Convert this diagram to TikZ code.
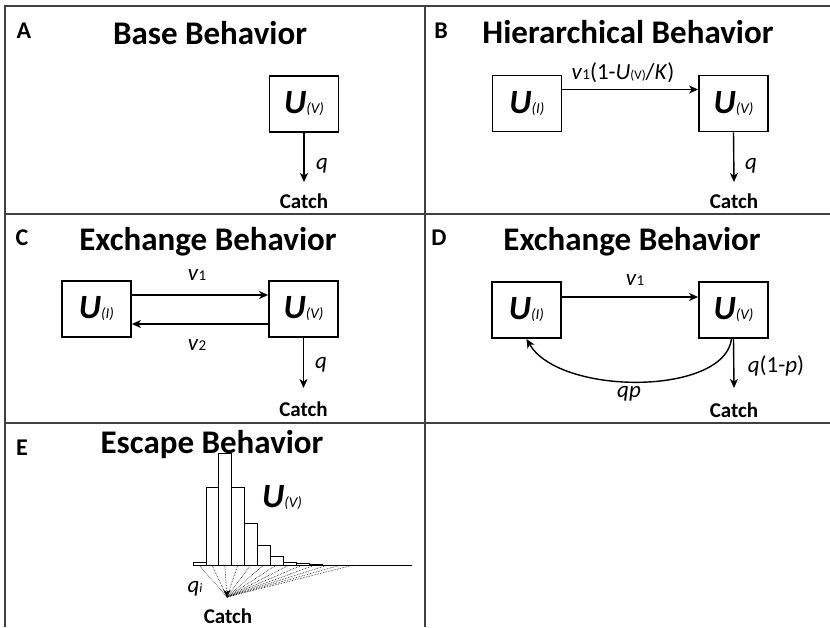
\documentclass[tikz,border=0pt]{standalone}
\usepackage{fontspec}
\setmainfont{Carlito}
\usetikzlibrary{calc}
\usetikzlibrary{arrows.meta}

\newcommand{\Ubox}[1]{{\fontsize{34}{34}\selectfont\bfseries\itshape U}{\fontsize{15}{15}\selectfont\itshape(#1)}}
\newcommand{\vsub}[1]{\textit{v}{\fontsize{15}{15}\selectfont #1}}

\begin{document}
\begin{tikzpicture}[x=1pt,y=-1pt,
  box/.style={draw,line width=1.8pt,minimum width=69pt,minimum height=56pt,inner sep=0pt},
  flow/.style={-{Stealth[length=9pt,width=8pt,inset=2.5pt]},line width=1.4pt},
  ttl/.style={font=\fontsize{33}{33}\selectfont\bfseries,anchor=base,inner sep=0pt},
  tag/.style={font=\fontsize{24}{24}\selectfont\bfseries,anchor=base,inner sep=0pt},
  catch/.style={font=\fontsize{21}{21}\selectfont\bfseries,anchor=base,inner sep=0pt},
  rate/.style={font=\fontsize{23}{23}\selectfont,anchor=base,inner sep=0pt},
  grid/.style={line width=1.3pt,draw=black!75}]
\useasboundingbox (0,0) rectangle (830,627);
\draw[grid] (830,6) -- (5,6) -- (5,627);
\draw[grid] (425,6) -- (425,627);
\draw[grid] (5,214) -- (830,214);
\draw[grid] (5,423) -- (830,423);

\node[tag] (aL) at (24,38) {A};
\node[ttl] (aT) at (210,44) {Base Behavior};
\node[box] (aV) at (304,104) {\Ubox{V}};
\node[catch] (aC) at (304,208) {Catch};
\draw[flow] (aV.south) -- ($(aC.base)+(0,-26)$);
\node[rate] (aq) at (322,169) {\textit{q}};

\node[tag] (bL) at (441,38) {B};
\node[ttl] (bT) at (628,43) {Hierarchical Behavior};
\node[box] (bI) at (527,103.5) {\Ubox{I}};
\node[box] (bV) at (733.5,103.5) {\Ubox{V}};
\draw[flow] ($(bI.east)+(0,-14)$) -- ($(bV.west)+(0,-14)$);
\node[rate] (bk) at (623,79) {\vsub{1}(1-\textit{U}{\fontsize{13}{13}\selectfont(V)}/\textit{K})};
\node[catch] (bC) at (734,208) {Catch};
\draw[flow] (bV.south) -- ($(bC.base)+(0,-26)$);
\node[rate] (bq) at (751,169) {\textit{q}};

\node[tag] (cL) at (22,245) {C};
\node[ttl] (cT) at (208,250) {Exchange Behavior};
\node[box] (cI) at (96.5,309) {\Ubox{I}};
\node[box] (cV) at (303.5,309) {\Ubox{V}};
\draw[flow] ($(cI.east)+(0,-14)$) -- ($(cV.west)+(0,-14)$);
\draw[flow] ($(cV.west)+(0,15)$) -- ($(cI.east)+(0,15)$);
\node[rate] (cv1) at (197,280) {\vsub{1}};
\node[rate] (cv2) at (197,350) {\vsub{2}};
\node[catch] (cC) at (303.5,416) {Catch};
\draw[flow] (cV.south) -- ($(cC.base)+(0,-28)$);
\node[rate] (cq) at (321,368) {\textit{q}};

\node[tag] (dL) at (439,245) {D};
\node[ttl] (dT) at (632,250) {Exchange Behavior};
\node[box] (dI) at (526.5,310) {\Ubox{I}};
\node[box] (dV) at (733.5,310) {\Ubox{V}};
\draw[flow] ($(dI.east)+(0,-13)$) -- ($(dV.west)+(0,-13)$);
\node[rate] (dv1) at (635,285) {\vsub{1}};
\node[catch] (dC) at (734,417) {Catch};
\draw[flow] (dV.south) -- ($(dC.base)+(0,-29)$);
\draw[flow] ($(dV.south)+(-2,0)$) .. controls +(-7,57) and +(33,57) .. (dI.south);
\node[rate] (dqp) at (629,397) {\textit{qp}};
\node[rate] (dq) at (776,372) {\textit{q}(1-\textit{p})};

\node[tag] (eL) at (22,455) {E};
\node[ttl] (eT) at (212,453) {Escape Behavior};
\foreach \t [count=\i from 0] in {562,487,453,487,523,545,556,562,563,564}
  \draw[line width=0.8pt] (193+12.9*\i,565) rectangle (205.9+12.9*\i,\t);
\draw[line width=0.8pt] (193,565) -- (412,565);
\coordinate (eA) at (227,597);
\foreach \i in {0,...,12}
  \draw[densely dotted,line width=0.6pt] (eA) -- (199+12.9*\i,565);
\draw[-{Stealth[length=7pt,width=7pt]},line width=0.6pt] ($(eA)+(0,-6)$) -- (eA);
\node[rate] (eq) at (195,592) {\textit{q}{\fontsize{13}{13}\selectfont\textit{i}}};
\node[anchor=base,inner sep=0pt] (eU) at (282,507) {\Ubox{V}};
\node[catch] (eC) at (228,623) {Catch};
\end{tikzpicture}
\end{document}
